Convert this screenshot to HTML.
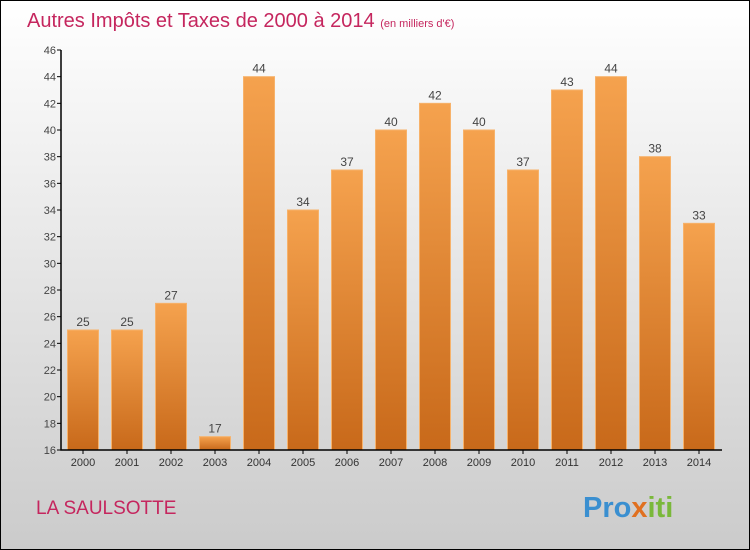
<!DOCTYPE html>
<html><head><meta charset="utf-8"><style>
body{margin:0}
#c{width:750px;height:550px;position:relative;box-sizing:border-box;border:1px solid #000;background:linear-gradient(#fff,#cbcbcb);overflow:hidden;font-family:"Liberation Sans",sans-serif}
</style></head><body>
<div id="c">
<svg width="750" height="550" style="position:absolute;left:-1px;top:-1px">
<defs><linearGradient id="g" x1="0" y1="0" x2="0" y2="1"><stop offset="0" stop-color="#f5a24e"/><stop offset="1" stop-color="#c8691a"/></linearGradient></defs>
<text x="27" y="27" font-size="20" fill="#c5265e">Autres Impôts et Taxes de 2000 à 2014 <tspan font-size="11">(en milliers d'€)</tspan></text>
<g id="plot"></g>
<text x="36" y="514" font-size="19" fill="#c5265e">LA SAULSOTTE</text>
<text x="583" y="517" font-size="29" font-weight="bold"><tspan fill="#3a8fd0">Pro</tspan><tspan fill="#e07020">x</tspan><tspan fill="#7ab83a">iti</tspan></text>
</svg></div>
<script>
const years=["2000","2001","2002","2003","2004","2005","2006","2007","2008","2009","2010","2011","2012","2013","2014"];
const values=[25,25,27,17,44,34,37,40,42,40,37,43,44,38,33];
const ticks=[16,18,20,22,24,26,28,30,32,34,36,38,40,42,44,46];
const NS="http://www.w3.org/2000/svg";
const g=document.getElementById('plot');
const y=v=>450-(v-16)*400/30;
const x=i=>83+i*44;
function mk(t,a){const e=document.createElementNS(NS,t);for(const k in a)e.setAttribute(k,a[k]);g.appendChild(e);return e;}
years.forEach((yr,i)=>{
 const b=mk('rect',{x:x(i)-15.5,y:y(values[i]),width:31,height:450-y(values[i]),fill:'url(#g)',stroke:'#f7b26a','stroke-width':1});
 
 
 const l=mk('text',{x:x(i),y:y(values[i])-4,'text-anchor':'middle','font-size':12,fill:'#444'});l.textContent=values[i];
 
 
 const xl=mk('text',{x:x(i),y:466,'text-anchor':'middle','font-size':11,fill:'#333'});xl.textContent=yr;
 
 
 mk('line',{x1:x(i),x2:x(i),y1:450,y2:454,stroke:'#000'});
});
ticks.forEach(t=>{
 mk('line',{x1:57,x2:61,y1:y(t),y2:y(t),stroke:'#000'});
 const tl=mk('text',{x:56,y:y(t)+4,'text-anchor':'end','font-size':11,fill:'#444'});tl.textContent=t;
 
 
});
const ax=mk('path',{d:'M61 50V450H722',stroke:'#000',fill:'none','stroke-width':1.5});


</script>
</body></html>
